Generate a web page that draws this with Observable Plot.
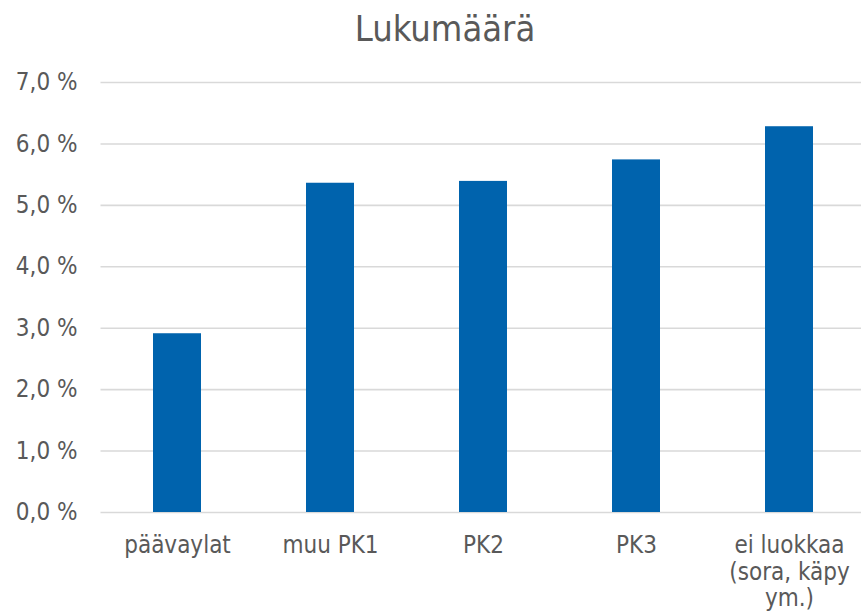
<!DOCTYPE html>
<html>
<head>
<meta charset="utf-8">
<script src="https://cdn.jsdelivr.net/npm/d3@7"></script>
<script src="https://cdn.jsdelivr.net/npm/@observablehq/plot@0.6"></script>
<style>
  html, body { margin: 0; padding: 0; background: #fff; overflow: hidden; width: 861px; height: 613px; }
  #title { position: absolute; left: 0; top: 11px; width: 890px; text-align: center;
    font-family: "DejaVu Sans Condensed", "DejaVu Sans", sans-serif; font-size: 36px; line-height: 1; color: #595959; }
  #chart { position: absolute; left: 0; top: 60px; }
</style>
</head>
<body>
<div id="title">Lukumäärä</div>
<div id="chart"></div>
<script>
const categories = ["päävaylat", "muu PK1", "PK2", "PK3", "ei luokkaa (sora, käpy ym.)"];
const values = [0.0291, 0.0536, 0.0539, 0.0574, 0.0628];
const yTicks = [0, 0.01, 0.02, 0.03, 0.04, 0.05, 0.06, 0.07];
const categoryLabels = {
  "päävaylat": "päävaylat",
  "muu PK1": "muu PK1",
  "PK2": "PK2",
  "PK3": "PK3",
  "ei luokkaa (sora, käpy ym.)": "ei luokkaa\n(sora, käpy\nym.)"
};

const data = categories.map((c, i) => ({category: c, value: values[i]}));
const fmt = d => (d * 100).toFixed(1).replace(".", ",") + " %";

const chart = Plot.plot({
  width: 861,
  height: 553,
  marginTop: 22,
  marginBottom: 101,
  marginLeft: 100.5,
  marginRight: -4.5,
  style: {fontFamily: "'DejaVu Sans Condensed', 'DejaVu Sans', sans-serif", fontSize: "24px", color: "#595959", background: "transparent", overflow: "visible"},
  x: {domain: categories, paddingInner: 0.686, paddingOuter: 0.343, label: null},
  y: {domain: [0, 0.07], label: null},
  marks: [
    Plot.gridY(yTicks, {stroke: "#d9d9d9", strokeOpacity: 1, strokeWidth: 1.6}),
    Plot.barY(data, {x: "category", y: "value", fill: "#0063ad"}),
    Plot.axisY(yTicks, {tickSize: 0, tickPadding: 23.5, tickFormat: fmt, label: null, fontSize: 24, fill: "#595959"}),
    Plot.axisX({tickSize: 0, tickPadding: 22, tickFormat: d => categoryLabels[d], label: null, fontSize: 24, lineHeight: 1.1, fill: "#595959"})
  ]
});
document.getElementById("chart").appendChild(chart);
</script>
</body>
</html>
